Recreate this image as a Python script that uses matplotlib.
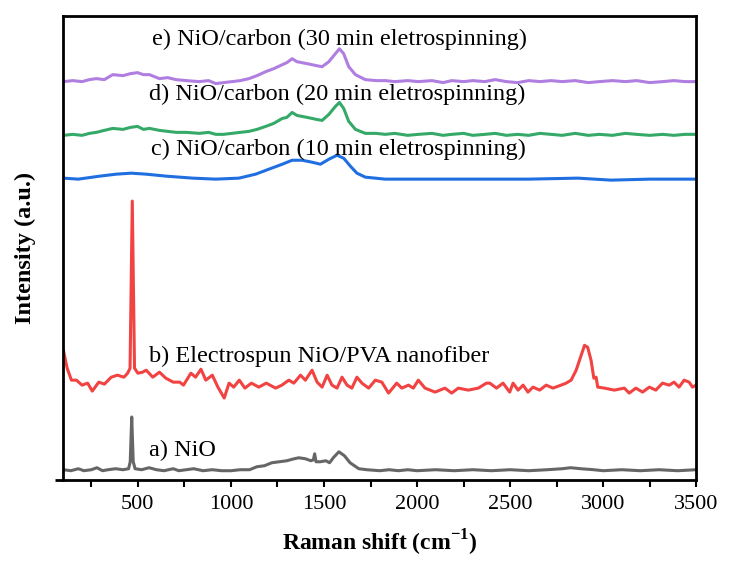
import matplotlib
matplotlib.use('Agg')
import matplotlib.pyplot as plt
import numpy as np

# Raman spectra, stacked (intensity in a.u. incl. offset)
x_a = [100, 140, 180, 210, 250, 280, 310, 340, 380, 420, 450, 459, 467, 475, 485, 520, 560,
       600, 640, 690, 720, 760, 800, 850, 900, 950, 1000, 1050, 1100, 1140, 1180, 1220, 1260,
       1300, 1340, 1365, 1400, 1430, 1443, 1450, 1457, 1480, 1510, 1530, 1550, 1580, 1610,
       1640, 1687, 1730, 1800, 1850, 1900, 1950, 2000, 2100, 2200, 2300, 2400, 2500, 2600,
       2700, 2780, 2825, 2880, 2950, 3000, 3100, 3200, 3300, 3400, 3500]
y_a = [10, 9, 11, 9, 10, 12, 9, 10, 11, 10, 11, 18, 63, 18, 11, 10, 12,
       10, 9, 11, 9, 10, 11, 9, 10, 9, 9, 10, 10, 13, 14, 17, 18,
       19, 21, 22, 21, 19, 20, 26, 18, 18, 19, 17, 22, 28, 24,
       17, 11, 10, 9, 10, 9, 10, 9, 10, 9, 10, 9, 10, 9,
       10, 11, 12, 11, 10, 9, 10, 9, 10, 9, 10]

x_b = [100, 120, 143, 170, 200, 230, 255, 290, 320, 357, 390, 425, 445, 458, 470, 482, 500,
       525, 545, 580, 616, 650, 690, 725, 745, 785, 810, 839, 865, 900, 930, 964, 990, 1015,
       1045, 1075, 1110, 1150, 1190, 1240, 1274, 1311, 1338, 1374, 1400, 1436, 1463, 1490,
       1517, 1543, 1570, 1597, 1624, 1650, 1677, 1704, 1740, 1776, 1811, 1847, 1891, 1918,
       1954, 1980, 2007, 2043, 2097, 2150, 2186, 2222, 2275, 2329, 2373, 2391, 2427, 2462,
       2498, 2516, 2543, 2570, 2596, 2623, 2659, 2694, 2730, 2774, 2801, 2828, 2855, 2882,
       2900, 2917, 2935, 2950, 2962, 2971, 3007, 3060, 3114, 3140, 3176, 3212, 3248, 3283,
       3319, 3355, 3381, 3408, 3435, 3462, 3480, 3500]
y_b = [130, 112, 100, 100, 95, 97, 89, 98, 96, 103, 105, 103, 107, 112, 280, 112, 107,
       108, 110, 103, 108, 102, 98, 98, 95, 107, 103, 111, 100, 105, 93, 82, 97, 93,
       100, 92, 97, 93, 97, 92, 95, 100, 97, 105, 100, 110, 98, 93,
       105, 95, 92, 103, 95, 92, 103, 97, 92, 100, 98, 87, 97, 92,
       95, 92, 100, 92, 88, 92, 87, 92, 90, 92, 97, 97, 92, 97,
       88, 97, 90, 95, 88, 93, 90, 95, 92, 95, 97, 100, 110, 125,
       135, 133, 120, 102, 103, 93, 92, 90, 92, 87, 92, 88, 93, 90,
       97, 95, 98, 93, 100, 98, 93, 95]

x_c = [100, 180, 295, 384, 464, 544, 652, 795, 919, 1043, 1133, 1204, 1276, 1329, 1383,
       1436, 1481, 1526, 1570, 1606, 1642, 1677, 1722, 1829, 2000, 2300, 2600, 2864, 3043,
       3250, 3500]
y_c = [303, 302, 305, 307, 308, 307, 305, 303, 302, 303, 307, 312, 317, 321, 321,
       319, 317, 322, 326, 323, 315, 308, 304, 302, 302, 302, 302, 303, 301,
       302, 302]

x_d = [100, 150, 200, 240, 277, 320, 365, 420, 460, 498, 530, 562, 616, 660, 705, 760, 830,
       880, 919, 960, 1006, 1050, 1097, 1140, 1187, 1230, 1276, 1300, 1329, 1355, 1383, 1410,
       1436, 1460, 1490, 1526, 1561, 1583, 1606, 1633, 1669, 1722, 1780, 1829, 1880, 1950,
       2007, 2080, 2140, 2186, 2250, 2300, 2364, 2420, 2480, 2540, 2600, 2660, 2720, 2780,
       2850, 2920, 2980, 3050, 3120, 3180, 3250, 3320, 3380, 3440, 3500]
y_d = [346, 347, 346, 348, 349, 351, 353, 352, 354, 355, 352, 353, 351, 350, 349, 349, 348,
       349, 347, 347, 348, 349, 350, 352, 355, 358, 363, 364, 369, 366, 365, 364,
       363, 362, 361, 367, 375, 379, 373, 360, 352, 348, 348, 347, 348, 346,
       347, 348, 346, 347, 348, 346, 347, 348, 346, 347, 346, 348, 347, 346,
       348, 346, 347, 346, 348, 347, 346, 347, 346, 347, 347]

x_e = [100, 150, 200, 240, 277, 320, 365, 420, 460, 498, 530, 562, 616, 660, 705, 760, 830,
       880, 919, 960, 1006, 1050, 1097, 1140, 1187, 1230, 1276, 1300, 1329, 1355, 1383, 1410,
       1436, 1460, 1490, 1526, 1561, 1583, 1606, 1633, 1669, 1722, 1780, 1829, 1880, 1950,
       2007, 2080, 2140, 2186, 2250, 2300, 2364, 2420, 2480, 2540, 2600, 2660, 2720, 2780,
       2850, 2920, 2980, 3050, 3120, 3180, 3250, 3320, 3380, 3440, 3500]
y_e = [400, 401, 400, 402, 403, 402, 407, 406, 408, 409, 407, 407, 403, 404, 402, 401, 400,
       401, 398, 399, 400, 401, 403, 406, 410, 413, 417, 419, 423, 420, 419, 418,
       417, 416, 415, 420, 428, 433, 428, 415, 407, 402, 401, 401, 400, 401,
       400, 401, 399, 401, 400, 401, 400, 402, 400, 399, 401, 400, 401, 400,
       401, 399, 400, 401, 400, 401, 399, 400, 401, 400, 400]

labels = ['a) NiO',
          'b) Electrospun NiO/PVA nanofiber',
          'c) NiO/carbon (10 min eletrospinning)',
          'd) NiO/carbon (20 min eletrospinning)',
          'e) NiO/carbon (30 min eletrospinning)']
colors = ['#666666', '#F24343', '#1F6FE0', '#35AA68', '#B07EE0']

plt.rcParams['font.family'] = ['Liberation Serif', 'DejaVu Serif']

fig = plt.figure(figsize=(7.29, 5.69), dpi=100)
ax = fig.add_axes([0.087, 0.157, 0.868, 0.815])

series = [(x_a, y_a), (x_b, y_b), (x_c, y_c), (x_d, y_d), (x_e, y_e)]
for (xs, ys), c in zip(series, colors):
    ax.plot(xs, ys, color=c, lw=2.2, solid_joinstyle='round')

# label positions (x start, y centre) in data units
label_pos = [(562, 29), (562, 124), (573, 332), (562, 387), (578, 442)]
for lab, (tx, ty) in zip(labels, label_pos):
    ax.text(tx, ty, lab, fontsize=17.5, va='center', ha='left', color='black')

ax.set_xlim(100, 3500)
ax.set_ylim(0, 466)
ax.set_xticks([500, 1000, 1500, 2000, 2500, 3000, 3500])
ax.set_xticks(np.arange(250, 3500, 500), minor=True)
ax.tick_params(axis='x', which='both', direction='out', length=5, width=1.5,
               labelsize=16, pad=6)
ax.set_yticks([0])
ax.set_yticklabels([])
ax.tick_params(axis='y', direction='out', length=6, width=2)
for s in ax.spines.values():
    s.set_linewidth(2)

ax.set_xlabel('Raman shift (cm$^{\\mathregular{-1}}$)', fontsize=17, fontweight='bold', labelpad=10)
ax.set_ylabel('Intensity (a.u.)', fontsize=17.5, fontweight='bold', labelpad=10)

fig.savefig('out.png', dpi=100)
